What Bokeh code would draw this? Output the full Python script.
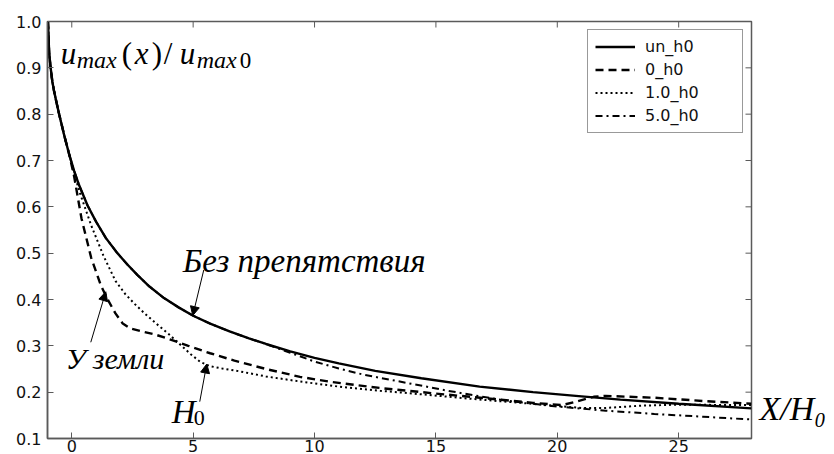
import math
from bokeh.plotting import figure
from bokeh.models import (Range1d, LinearAxis, FixedTicker, NumeralTickFormatter,
                          CustomJSTickFormatter, Label, Arrow, NormalHead, Legend,
                          LegendItem)
from bokeh.embed import file_html
from bokeh.resources import INLINE

# ---- data ----
x_ticks = [0, 5, 10, 15, 20, 25]
y_ticks = [0.1, 0.2, 0.3, 0.4, 0.5, 0.6, 0.7, 0.8, 0.9, 1.0]
x_min, x_max = -1, 28
y_min, y_max = 0.1, 1.0

x_un = [-0.98, -0.93, -0.87, -0.8, -0.73, -0.62, -0.52, -0.3, -0.1, 0.1, 0.3, 0.65, 1.0,
        1.4, 1.88, 2.3, 2.7, 3.2, 3.8, 4.4, 5.0, 5.7, 6.5, 7.3, 8.0, 9.0, 10.0, 11.0, 12.5,
        14.4, 16.8, 19.0, 21.0, 22.6, 25.0, 28.0]
y_un = [1.0, 0.93, 0.9, 0.87, 0.85, 0.823, 0.8, 0.752, 0.712, 0.677, 0.647, 0.603, 0.568,
        0.533, 0.5, 0.475, 0.453, 0.428, 0.403, 0.383, 0.365, 0.348, 0.331, 0.316, 0.304,
        0.288, 0.274, 0.262, 0.246, 0.23, 0.212, 0.2, 0.191, 0.184, 0.175, 0.165]

x_0 = [-0.98, -0.93, -0.87, -0.8, -0.73, -0.62, -0.52, -0.3, -0.1, 0.1, 0.4, 0.8, 1.2, 1.5,
       1.8, 2.1, 2.4, 2.9, 3.4, 4.1, 4.8, 5.7, 6.7, 8.0, 9.4, 10.7, 12.7, 15.0, 17.0, 19.0,
       20.2, 20.8, 21.5, 22.0, 24.0, 26.0, 28.0]
y_0 = [1.0, 0.93, 0.9, 0.87, 0.85, 0.823, 0.8, 0.752, 0.712, 0.665, 0.575, 0.49, 0.43,
       0.398, 0.37, 0.348, 0.338, 0.331, 0.325, 0.313, 0.3, 0.284, 0.268, 0.25, 0.233,
       0.222, 0.209, 0.197, 0.187, 0.177, 0.172, 0.18, 0.19, 0.192, 0.188, 0.181, 0.175]

x_1 = [-0.98, -0.93, -0.87, -0.8, -0.73, -0.62, -0.52, -0.3, -0.1, 0.3, 0.8, 1.3, 1.8, 2.2,
       2.6, 3.0, 3.5, 4.0, 4.4, 4.9, 5.3, 5.7, 6.2, 6.7, 8.0, 9.4, 11.0, 12.7, 14.5, 16.8,
       18.5, 20.0, 21.0, 22.0, 23.5, 25.0, 28.0]
y_1 = [1.0, 0.93, 0.9, 0.87, 0.85, 0.823, 0.8, 0.752, 0.712, 0.635, 0.56, 0.495, 0.44,
       0.412, 0.39, 0.37, 0.347, 0.325, 0.306, 0.282, 0.265, 0.256, 0.251, 0.247, 0.234,
       0.223, 0.212, 0.203, 0.195, 0.184, 0.177, 0.17, 0.166, 0.166, 0.171, 0.173, 0.172]

x_5 = [-0.98, -0.93, -0.87, -0.8, -0.73, -0.62, -0.52, -0.3, -0.1, 0.1, 0.3, 0.65, 1.0,
       1.4, 1.88, 2.3, 2.7, 3.2, 3.8, 4.4, 5.0, 5.7, 6.5, 7.3, 8.0, 9.0, 10.0, 11.0, 12.0,
       13.0, 14.1, 15.5, 16.8, 18.0, 19.0, 20.0, 22.0, 24.0, 26.0, 28.0]
y_5 = [1.0, 0.93, 0.9, 0.87, 0.85, 0.823, 0.8, 0.752, 0.712, 0.677, 0.647, 0.603, 0.568,
       0.533, 0.5, 0.475, 0.453, 0.428, 0.403, 0.383, 0.365, 0.348, 0.331, 0.316, 0.304,
       0.285, 0.266, 0.251, 0.238, 0.228, 0.217, 0.203, 0.191, 0.181, 0.175, 0.169, 0.16,
       0.153, 0.147, 0.141]

series_names = ["un_h0", "0_h0", "1.0_h0", "5.0_h0"]
x_axis_title = "X/H₀"
x_axis_title_at = [0.165]

# ---- figure ----
FRAME = "#5a5a5a"
p = figure(width=834, height=454, x_range=Range1d(x_min, x_max),
           y_range=Range1d(y_min, y_max),
           output_backend="svg", toolbar_location=None,
           min_border_left=47, min_border_right=83, min_border_top=21, min_border_bottom=0)
p.xgrid.visible = False
p.ygrid.visible = False
p.outline_line_color = FRAME
p.outline_line_width = 1.5
p.background_fill_color = "white"
p.border_fill_color = "white"

for ax in (p.xaxis[0], p.yaxis[0]):
    ax.axis_line_color = FRAME
    ax.axis_line_width = 1.5
    ax.major_tick_in = 6
    ax.major_tick_out = 0
    ax.major_tick_line_color = FRAME
    ax.minor_tick_line_color = None
    ax.major_label_text_font = "DejaVu Sans"
    ax.major_label_text_font_size = "16px"
    ax.major_label_text_color = "#111111"
p.xaxis[0].ticker = FixedTicker(ticks=x_ticks)
p.xaxis[0].formatter = NumeralTickFormatter(format="0")
p.xaxis[0].major_label_standoff = 1
p.yaxis[0].ticker = FixedTicker(ticks=y_ticks)
p.yaxis[0].formatter = NumeralTickFormatter(format="0.0")
p.yaxis[0].major_label_standoff = 6

# right-side axis carrying only the "X/H0" text at the level of the curves' ends
right_ax = LinearAxis(ticker=FixedTicker(ticks=x_axis_title_at),
                      formatter=CustomJSTickFormatter(code="return '%s';" % x_axis_title),
                      axis_line_color=None, major_tick_line_color=None,
                      minor_tick_line_color=None, major_label_standoff=2,
                      major_label_text_font="Liberation Serif",
                      major_label_text_font_style="italic",
                      major_label_text_font_size="34px",
                      major_label_text_color="black")
p.add_layout(right_ax, "right")

# inward tick marks on the top and right sides of the frame
p.scatter(x=x_ticks, y=[y_max] * len(x_ticks), marker="dash", angle=math.pi / 2,
          size=12, line_color=FRAME, line_width=1)
p.scatter(x=[x_max] * len(y_ticks), y=y_ticks, marker="dash", size=12,
          line_color=FRAME, line_width=1)

r_un = p.line(x_un, y_un, line_color="black", line_width=2.4)
r_0 = p.line(x_0, y_0, line_color="black", line_width=2.4, line_dash="8 5")
r_1 = p.line(x_1, y_1, line_color="black", line_width=2.0, line_dash="2 3")
r_5 = p.line(x_5, y_5, line_color="black", line_width=2.0, line_dash="7 4 2 4")

legend = Legend(items=[LegendItem(label=n, renderers=[r])
                       for n, r in zip(series_names, [r_un, r_0, r_1, r_5])],
                location="top_right", margin=8, padding=7, spacing=4,
                glyph_width=40, glyph_height=19, label_height=19, label_standoff=10,
                label_width=90, label_text_font="DejaVu Sans", label_text_font_size="16px",
                label_text_color="#111111", border_line_color="#333333",
                border_line_width=1, background_fill_color="white",
                background_fill_alpha=1.0)
p.add_layout(legend)


# ---- annotations (positions measured in reference pixels) ----
def dx(px):
    return (px - 71.0) / 24.28


def dy(py):
    return 1.0 - (py - 21.0) / 468.0


SERIF = "Liberation Serif"


def lab(px, py, text, size, style="italic"):
    p.add_layout(Label(x=dx(px), y=dy(py), text=text, text_font=SERIF,
                       text_font_size=f"{size}px", text_font_style=style,
                       text_color="black", text_align="left",
                       text_baseline="alphabetic"))


# u_max(x)/u_max0
lab(60, 53, "u", 31)
lab(76, 60, "max", 24)
lab(121, 53, "(", 31, "normal")
lab(134, 53, "x", 31)
lab(151, 53, ")", 31, "normal")
lab(163, 53, "/", 31, "normal")
lab(179, 53, "u", 31)
lab(196, 60, "max", 24)
lab(239, 60, "0", 23, "normal")

# Без препятствия
lab(182, 263, "Без препятствия", 33)
# У земли
lab(65, 361, "У", 30)
lab(92, 361, "земли", 30)
# H0
lab(171, 415, "H", 33)
lab(193, 421, "0", 22, "normal")


def arrow(px0, py0, px1, py1):
    p.add_layout(Arrow(end=NormalHead(size=9, fill_color="black", line_color="black"),
                       x_start=dx(px0), y_start=dy(py0), x_end=dx(px1), y_end=dy(py1),
                       line_color="black", line_width=1))


arrow(203, 272, 192, 318)
arrow(90, 345, 105, 294)
arrow(199, 405, 206, 367)

open("out.html", "w").write(file_html(p, INLINE))
